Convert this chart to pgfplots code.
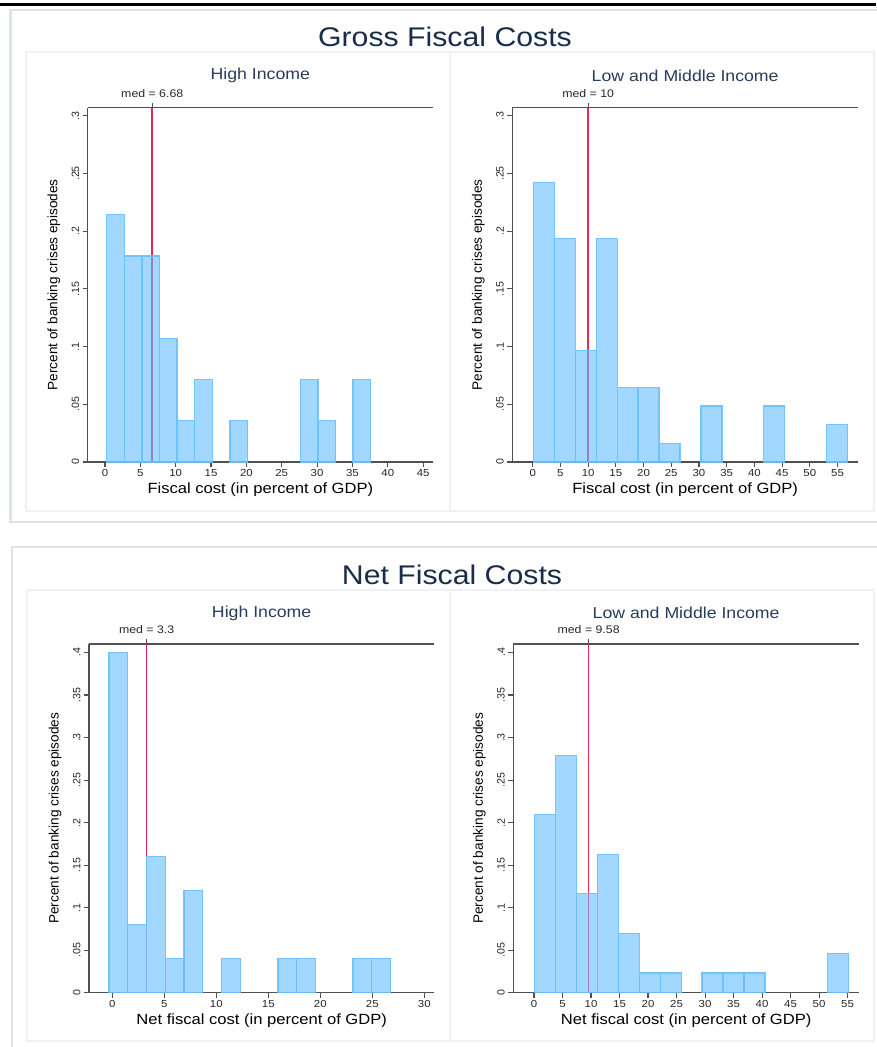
\documentclass[border=0pt]{standalone}
\usepackage{fontspec}
\setmainfont{Liberation Sans}[FakeStretch=1.12]
\newfontfamily\rotfont{Liberation Sans}
\usepackage{pgfplots}
\pgfplotsset{compat=1.18}
\definecolor{axgray}{RGB}{80,80,80}
\definecolor{barblue}{RGB}{100,188,255}
\definecolor{baredge}{RGB}{105,192,255}
\definecolor{medred}{RGB}{232,40,85}
\definecolor{titlenavy}{RGB}{25,45,75}
\definecolor{subnavy}{RGB}{40,60,90}
\definecolor{boxgray}{RGB}{222,228,230}
\definecolor{cellgray}{RGB}{236,242,245}

\pgfplotsset{
 panel/.style={
  scale only axis,
  anchor=south west,
  axis x line=box, axis y line=left,
  every outer x axis line/.append style={-},
  every outer y axis line/.append style={-},
  every inner x axis line/.append style={-},
  every inner y axis line/.append style={-},
  axis line style={draw=axgray, line width=1.3pt},
  ymin=0,
  tick align=outside,
  xtick pos=left, ytick pos=left,
  major tick length=5pt,
  minor tick num=0,
  tick style={draw=axgray, line width=1.1pt},
  /pgf/number format/assume math mode=true,
  xticklabel style={font=\fontsize{10.2}{11}\selectfont, text=black!85, inner ysep=1pt, yshift=-1.5pt},
  yticklabel style={font=\rotfont\fontsize{10.6}{12}\selectfont, rotate=90, anchor=south, text=black!85},
  every axis x label/.style={at={(axis description cs:0.5,0)}, anchor=center, yshift=-27.5pt, inner ysep=0pt, font=\fontsize{14.8}{16}\selectfont},
  every axis y label/.style={at={(axis description cs:-0.098,0.5)}, anchor=center, rotate=90, font=\rotfont\fontsize{13.6}{15}\selectfont},
  ylabel={Percent of banking crises episodes},
  title style={at={(axis description cs:0.5,1)}, anchor=center, yshift=26pt, font=\fontsize{15.8}{18}\selectfont, text=subnavy},
  clip=false,
 },
 bars/.style={ybar, bar shift=0pt, fill=barblue, fill opacity=0.6, draw=baredge, draw opacity=0.9, line width=1.3pt},
 medline/.style={medred, line width=1.5pt, no marks, forget plot},
}
\newcommand{\medlabel}[2]{%
  \draw[axgray, line width=1.1pt] (axis cs:#1,#2) -- ++(0pt,5pt);
  \node[yshift=14pt, font=\fontsize{11}{12}\selectfont, text=black!85] at (axis cs:#1,#2) {med = #1};}

\begin{document}
\begin{tikzpicture}
\path[use as bounding box] (0pt,0pt) rectangle (876pt,1047pt);
\begin{scope}[x=1pt, y=-1pt, yshift=1047pt]
  \fill[black] (0,3.5) rectangle (876,6.2);
  \draw[boxgray, line width=2.5pt] (10.5,10) rectangle (885,522);
  \draw[cellgray, line width=1.2pt] (26,52) rectangle (450,511);
  \draw[cellgray, line width=1.2pt] (450,52) rectangle (874,511);
  \draw[boxgray, line width=2.5pt] (12,547) rectangle (885,1060);
  \draw[cellgray, line width=1.2pt] (27,590) rectangle (450,1041);
  \draw[cellgray, line width=1.2pt] (450,590) rectangle (874,1041);
  \node[font=\fontsize{27}{30}\selectfont, text=titlenavy] at (445,37) {Gross Fiscal Costs};
  \node[font=\fontsize{27}{30}\selectfont, text=titlenavy] at (452,575) {Net Fiscal Costs};
\end{scope}

% Panel 1: Gross, High income
\begin{axis}[panel, at={(87.7pt,585pt)}, width=345.3pt, height=354.3pt,
  xmin=-2.45, xmax=46.4, ymax=0.307,
  xtick={0,5,...,45},
  ytick={0,0.05,0.1,0.15,0.2,0.25,0.3}, yticklabels={0,.05,.1,.15,.2,.25,.3},
  xlabel={Fiscal cost (in percent of GDP)}, title={High Income}]
  \addplot[medline] coordinates {(6.68,0) (6.68,0.307)};
  \addplot[bars, bar width=2.49] coordinates {
    (1.485,0.2143) (3.975,0.1786) (6.465,0.1786) (8.955,0.1071) (11.445,0.0357)
    (13.935,0.0714) (18.915,0.0357) (28.875,0.0714) (31.365,0.0357) (36.345,0.0714)};
  \medlabel{6.68}{0.307}
\end{axis}

% Panel 2: Gross, Low and middle income
\begin{axis}[panel, at={(512.3pt,585pt)}, width=345.7pt, height=354.3pt,
  xmin=-3.68, xmax=58.7, ymax=0.307,
  xtick={0,5,...,55},
  ytick={0,0.05,0.1,0.15,0.2,0.25,0.3}, yticklabels={0,.05,.1,.15,.2,.25,.3},
  xlabel={Fiscal cost (in percent of GDP)}, title={Low and Middle Income}]
  \addplot[medline] coordinates {(10,0) (10,0.307)};
  \addplot[bars, bar width=3.78] coordinates {
    (2.01,0.2419) (5.79,0.1935) (9.57,0.0968) (13.35,0.1935) (17.13,0.0645)
    (20.91,0.0645) (24.69,0.0161) (32.25,0.0484) (43.59,0.0484) (54.93,0.0323)};
  \medlabel{10}{0.307}
\end{axis}

% Panel 3: Net, High income
\begin{axis}[panel, at={(89pt,54.3pt)}, width=345.3pt, height=348.7pt,
  xmin=-2.24, xmax=30.96, ymax=0.410,
  xtick={0,5,...,30},
  ytick={0,0.05,0.1,0.15,0.2,0.25,0.3,0.35,0.4}, yticklabels={0,.05,.1,.15,.2,.25,.3,.35,.4},
  xlabel={Net fiscal cost (in percent of GDP)}, title={High Income},
  title style={yshift=-1pt}]
  \addplot[medline] coordinates {(3.3,0) (3.3,0.410)};
  \addplot[bars, bar width=1.805] coordinates {
    (0.5825,0.40) (2.3875,0.08) (4.1925,0.16) (5.9975,0.04) (7.8025,0.12)
    (11.4125,0.04) (16.8275,0.04) (18.6325,0.04) (24.0475,0.04) (25.8525,0.04)};
  \medlabel{3.3}{0.410}
\end{axis}

% Panel 4: Net, Low and middle income
\begin{axis}[panel, at={(513.3pt,54.3pt)}, width=345.7pt, height=348.7pt,
  xmin=-3.63, xmax=57.0, ymax=0.410,
  xtick={0,5,...,55},
  ytick={0,0.05,0.1,0.15,0.2,0.25,0.3,0.35,0.4}, yticklabels={0,.05,.1,.15,.2,.25,.3,.35,.4},
  xlabel={Net fiscal cost (in percent of GDP)}, title={Low and Middle Income},
  title style={yshift=-1pt}]
  \addplot[medline] coordinates {(9.58,0) (9.58,0.410)};
  \addplot[bars, bar width=3.67] coordinates {
    (1.955,0.2093) (5.625,0.2791) (9.295,0.1163) (12.965,0.1628) (16.635,0.0698)
    (20.305,0.0233) (23.975,0.0233) (31.315,0.0233) (34.985,0.0233) (38.655,0.0233)
    (53.335,0.0465)};
  \medlabel{9.58}{0.410}
\end{axis}
\end{tikzpicture}
\end{document}
